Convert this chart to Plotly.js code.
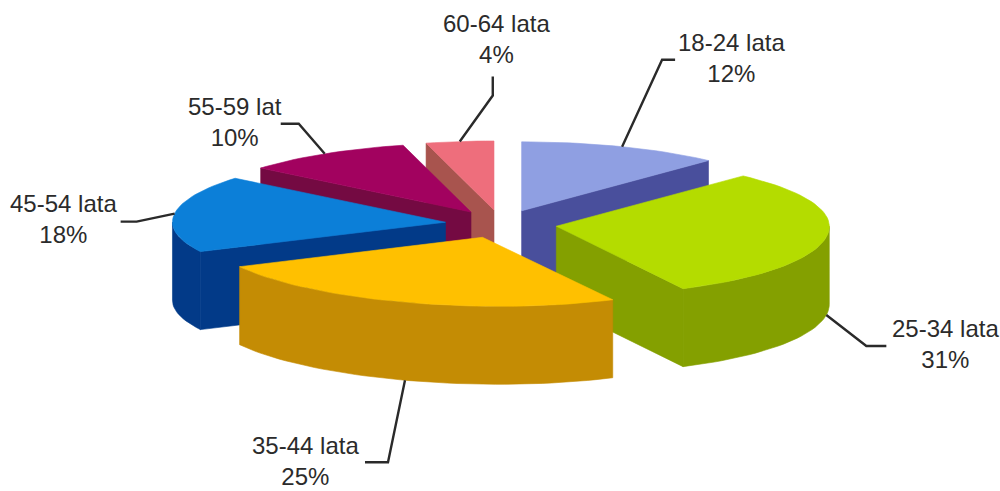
<!DOCTYPE html>
<html><head><meta charset="utf-8">
<script src="https://cdn.plot.ly/plotly-3.0.1.min.js"></script>
<style>html,body{margin:0;padding:0;background:#fff}#c{width:1000px;height:491px}</style>
</head><body><div id="c"></div>
<script>
const categories = ['18-24 lata','25-34 lata','35-44 lata','45-54 lata','55-59 lat','60-64 lata'];
const shares = [12,31,25,18,10,4];
const topColors  = ['#8f9fe2','#b4dc00','#ffc000','#0c7fd8','#a2025f','#ee6e7c'];
const sideColors = ['#494f9c','#84a000','#c48c04','#023a88','#740a42','#a8544e'];
const drawOrder = [5,0,4,3,1,2];
// leader line: elbow and end, relative to the anchor on the slice edge
const leaderElbow = [[40,-87],[40,31],[-17,82],[-38,8],[-26,-30],[33,-46]];
const leaderEnd   = [[53,-87],[60,31],[-40,82],[-54,8],[-44,-30],[33,-65]];
const labelX = [731,945,305,63,235,496];
const labelY = [58,344,461,219,122,39];

// projection of the tilted pie plane to chart coordinates
const cx=501, cy=224, A=273, B=69, H=78, explode=0.205, shear=12, RAD=Math.PI/180;
function proj(X,Z){
  const s = Z<0 ? shear*Z*Z : 0;
  return [cx + A*X + s, cy - B*Z];
}
function rim(bis,deg){
  return proj(Math.sin(deg*RAD)+explode*Math.sin(bis*RAD), Math.cos(deg*RAD)+explode*Math.cos(bis*RAD));
}
function arc(bis,a0,a1){
  const out=[], n=Math.max(2,Math.ceil(Math.abs(a1-a0)/2));
  for(let i=0;i<=n;i++) out.push(rim(bis,a0+(a1-a0)*i/n));
  return out;
}
function poly(pts,color,extra){
  const xs=pts.map(p=>p[0]); const ys=pts.map(p=>p[1]);
  xs.push(xs[0]); ys.push(ys[0]);
  return Object.assign({type:'scatter',mode:'lines',x:xs,y:ys,fill:'toself',fillcolor:color,
    line:{color:color,width:0.6},hoverinfo:'skip',showlegend:false},extra||{});
}
function wall(top,color){
  const low=top.slice().reverse().map(p=>[p[0],p[1]+H]);
  return poly(top.concat(low),color);
}

const total = shares.reduce((a,b)=>a+b,0);
let acc=0;
const slices = shares.map(v=>{const a0=acc/total*360; acc+=v; const a1=acc/total*360; return {a0,a1,bis:(a0+a1)/2};});

const traces=[];
drawOrder.forEach(i=>{
  const {a0,a1,bis}=slices[i];
  const apex=proj(explode*Math.sin(bis*RAD),explode*Math.cos(bis*RAD));
  if(Math.sin(a0*RAD)<0) traces.push(wall([apex,rim(bis,a0)],sideColors[i]));
  if(Math.sin(a1*RAD)>0) traces.push(wall([apex,rim(bis,a1)],sideColors[i]));
  const f0=Math.max(a0,90), f1=Math.min(a1,270);
  if(f1>f0) traces.push(wall(arc(bis,f0,f1),sideColors[i]));
  traces.push(poly([apex].concat(arc(bis,a0,a1)),topColors[i]));
});

slices.forEach((s,i)=>{
  const p=rim(s.bis,s.bis);
  const front=Math.cos(s.bis*RAD)<0;
  const ax=p[0], ay=p[1]+(front?H:0);
  traces.push({type:'scatter',mode:'lines',
    x:[ax,ax+leaderElbow[i][0],ax+leaderEnd[i][0]],
    y:[ay,ay+leaderElbow[i][1],ay+leaderEnd[i][1]],
    line:{color:'#2a2a2a',width:2.4},hoverinfo:'skip',showlegend:false});
});

const annotations=categories.map((c,i)=>({
  x:labelX[i],y:labelY[i],xref:'x',yref:'y',showarrow:false,align:'center',
  text:c+'<br>'+shares[i]+'%',
  font:{family:'"Liberation Sans",Arial,sans-serif',size:24,color:'#2b2b2b'}
}));

Plotly.newPlot('c',traces,{
  width:1000,height:491,margin:{l:0,r:0,t:0,b:0},
  paper_bgcolor:'#ffffff',plot_bgcolor:'#ffffff',showlegend:false,
  xaxis:{range:[0,1000],visible:false,fixedrange:true},
  yaxis:{range:[491,0],visible:false,fixedrange:true},
  annotations
},{staticPlot:true,displayModeBar:false});
</script></body></html>
